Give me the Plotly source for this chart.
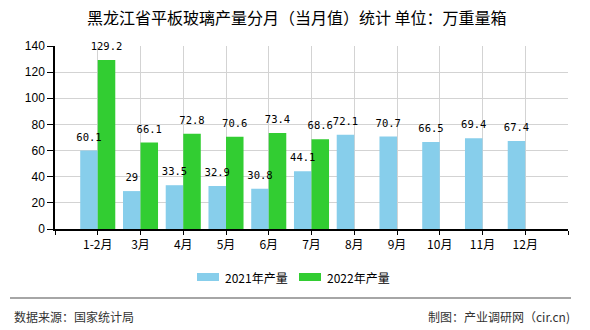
import plotly.graph_objects as go

months = ["1-2月", "3月", "4月", "5月", "6月", "7月", "8月", "9月", "10月", "11月", "12月"]
prod_2021 = [60.1, 29, 33.5, 32.9, 30.8, 44.1, 72.1, 70.7, 66.5, 69.4, 67.4]
prod_2022 = [129.2, 66.1, 72.8, 70.6, 73.4, 68.6, None, None, None, None, None]
series_names = ["2021年产量", "2022年产量"]
colors = ["#87CEEB", "#32CD32"]
y_ticks = [0, 20, 40, 60, 80, 100, 120, 140]

title = "黑龙江省平板玻璃产量分月（当月值）统计 单位：万重量箱"
source = "数据来源：国家统计局"
maker = "制图：产业调研网（cir.cn)"

W, H = 590, 330
L, R, T, B = 55, 22, 46, 101
pw, ph = W - L - R, H - T - B
BARGAP = 0.18


def px(x):
    return (x - L) / pw


def py(y):
    return (H - B - y) / ph


idx = list(range(len(months)))
series = [prod_2021, prod_2022]
bar_w = (1 - BARGAP) / len(series)

fig = go.Figure()
for name, vals, col in zip(series_names, series, colors):
    fig.add_trace(go.Bar(
        x=idx, y=vals, name=name, marker=dict(color=col, line=dict(width=0)),
        showlegend=False, hoverinfo="skip",
    ))
# value labels drawn on top of all bars, centred on each bar of the group
for k, vals in enumerate(series):
    off = -(1 - BARGAP) / 2 + bar_w * (k + 0.5)
    xs = [i + off for i, v in zip(idx, vals) if v is not None]
    ys = [v for v in vals if v is not None]
    fig.add_trace(go.Scatter(
        x=xs, y=ys, mode="markers+text", text=["%g" % v for v in ys],
        textposition="top center", cliponaxis=False,
        marker=dict(size=10, opacity=0),
        textfont=dict(family="DejaVu Sans Mono", size=10.5, color="#000"),
        showlegend=False, hoverinfo="skip",
    ))

fig.update_layout(
    width=W, height=H, margin=dict(l=L, r=R, t=T, b=B),
    paper_bgcolor="white", plot_bgcolor="white",
    barmode="group", bargap=BARGAP, bargroupgap=0,
    font=dict(family="Noto Sans CJK SC", size=12, color="#000"),
)
fig.update_xaxes(
    type="linear", range=[-1, 11],
    tickvals=list(range(-1, 12)), ticktext=[""] + months + [""],
    showgrid=True, gridcolor="#d3d3d3", gridwidth=1,
    ticks="outside", ticklen=4, tickcolor="#000",
    showline=True, linecolor="#000", linewidth=1.5, zeroline=False,
    tickfont=dict(family="Noto Sans CJK SC", size=12, color="#000"),
)
fig.update_yaxes(
    range=[0, 140], tickvals=y_ticks,
    showgrid=True, gridcolor="#d3d3d3", gridwidth=1,
    ticks="outside", ticklen=6, tickcolor="#000",
    showline=True, linecolor="#000", linewidth=1.5, zeroline=False,
    tickfont=dict(family="Liberation Sans", size=12, color="#000"),
)

annotations = [
    dict(text=title, xref="paper", yref="paper", x=px(297), y=py(17),
         xanchor="center", yanchor="middle", showarrow=False,
         font=dict(family="Noto Sans CJK SC", size=16, color="#000")),
    dict(text=source, xref="paper", yref="paper", x=px(12), y=py(316),
         xanchor="left", yanchor="middle", showarrow=False,
         font=dict(family="Noto Sans CJK SC", size=12, color="#333")),
    dict(text=maker, xref="paper", yref="paper", x=px(572), y=py(316),
         xanchor="right", yanchor="middle", showarrow=False,
         font=dict(family="Noto Sans CJK SC", size=12, color="#333")),
]
shapes = [
    dict(type="line", xref="paper", yref="paper", x0=px(10), x1=px(571),
         y0=py(298), y1=py(298), line=dict(color="#888", width=1.5)),
]
# manual legend
leg = [(197, series_names[0], colors[0]), (299, series_names[1], colors[1])]
for x0, name, col in leg:
    shapes.append(dict(type="rect", xref="paper", yref="paper",
                       x0=px(x0), x1=px(x0 + 22), y0=py(281), y1=py(273),
                       fillcolor=col, line=dict(width=0)))
    annotations.append(dict(text=name, xref="paper", yref="paper",
                            x=px(x0 + 26), y=py(277), xanchor="left", yanchor="middle",
                            showarrow=False,
                            font=dict(family="Noto Sans CJK SC", size=12, color="#000")))

fig.update_layout(annotations=annotations, shapes=shapes)
fig.write_html("out.html")
